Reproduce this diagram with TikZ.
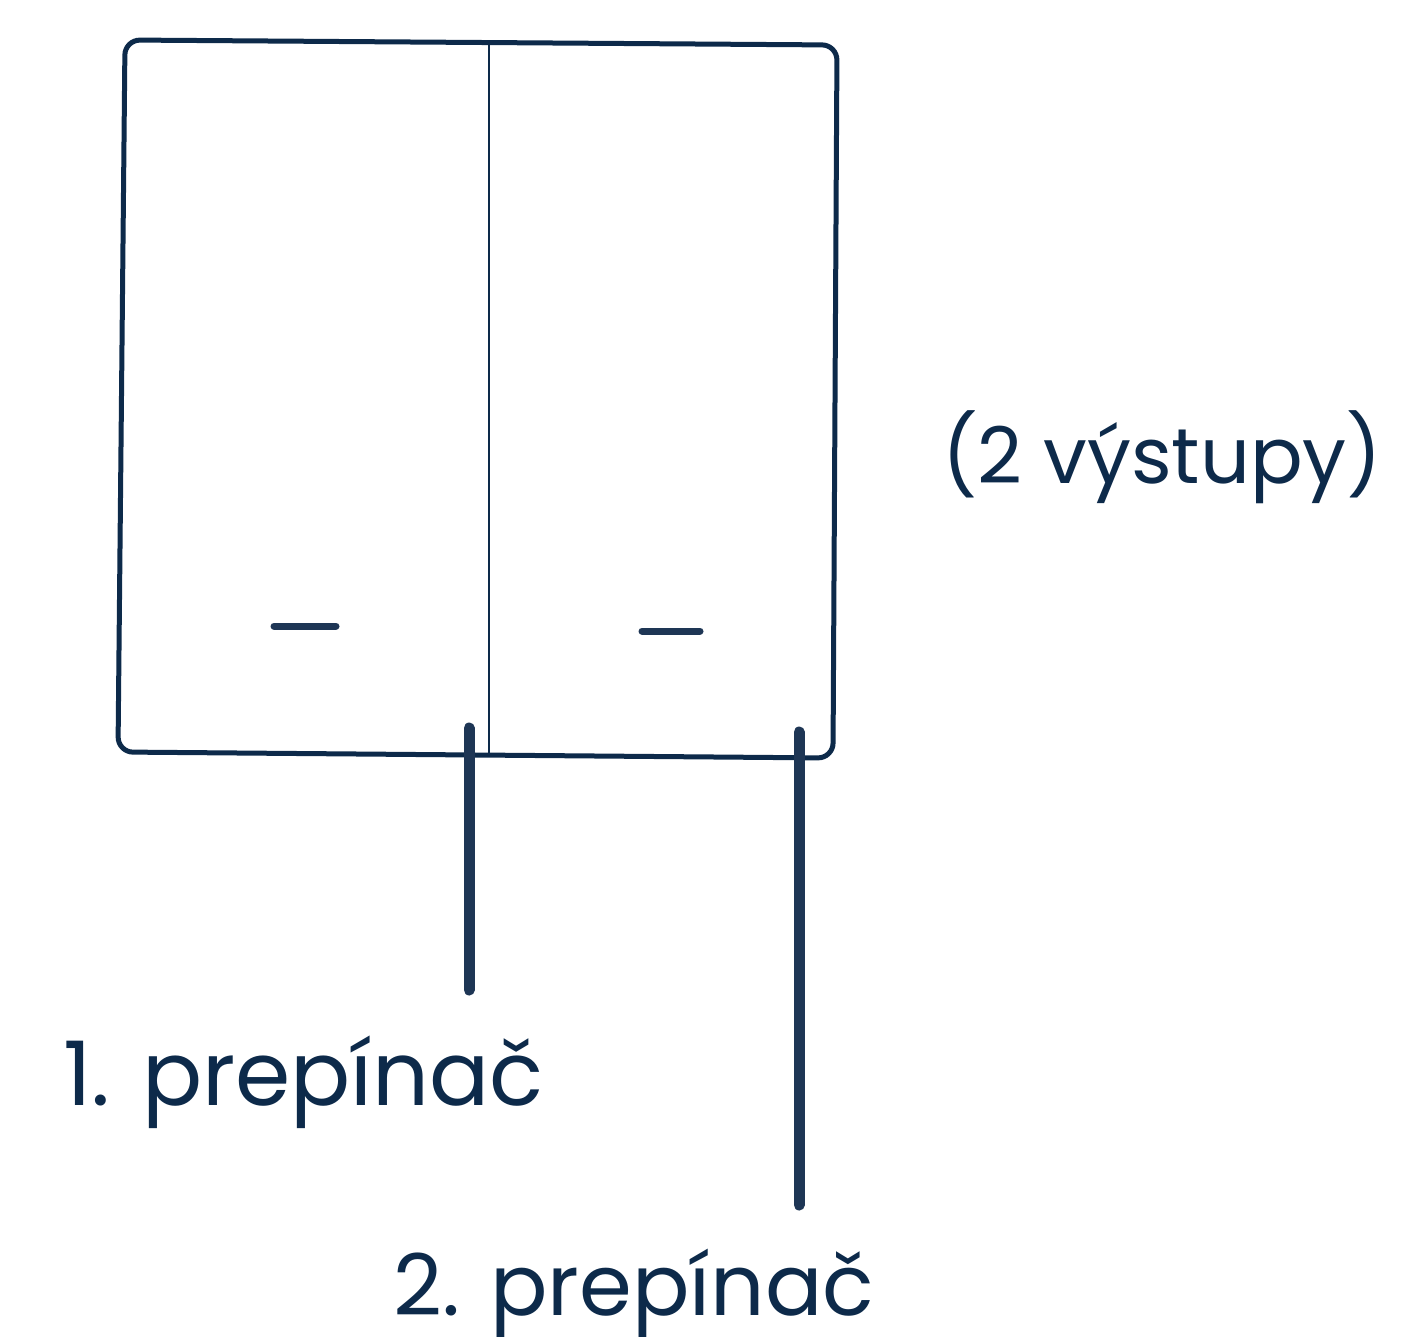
\documentclass[tikz,border=0pt]{standalone}
\usepackage{fontspec}
\setmainfont{Poppins}
\definecolor{navy}{HTML}{0D2A4A}
\definecolor{leadcol}{HTML}{1E3655}
\begin{document}
\begin{tikzpicture}[x=0.5pt,y=-0.5pt,
  outline/.style={draw=navy,line width=2.5pt,rounded corners=7.5pt},
  divider/.style={draw=navy,line width=1pt},
  dashmark/.style={draw=leadcol,line width=3.5pt,line cap=round},
  lead/.style={draw=leadcol,line width=5.5pt,line cap=round},
  lbl/.style={text=navy,inner sep=0pt}]
\useasboundingbox (0,0) rectangle (1415,1337);
\coordinate (tl) at (125,40);
\coordinate (tr) at (837,45);
\coordinate (br) at (833,758);
\coordinate (bl) at (118,752);
\draw[outline] (tl) -- (tr) -- (br) -- (bl) -- cycle;
\coordinate (dtop) at (489,43);
\coordinate (dbot) at (489,755);
\draw[divider] (dtop) -- (dbot);
\coordinate (m1a) at (274,626);
\coordinate (m1b) at (336,626);
\draw[dashmark] (m1a) -- (m1b);
\coordinate (m2a) at (642,631);
\coordinate (m2b) at (700,631);
\draw[dashmark] (m2a) -- (m2b);
\coordinate (l1a) at (469,728);
\coordinate (l1b) at (469,990);
\draw[lead] (l1a) -- (l1b);
\coordinate (l2a) at (799,732);
\coordinate (l2b) at (799,1205);
\draw[lead] (l2a) -- (l2b);
\node[lbl,anchor=base west,font=\fontsize{39}{43}\selectfont] (outs) at (942,483) {(2 výstupy)};
\node[lbl,anchor=base west,font=\fontsize{44.5}{48}\selectfont] (sw1) at (63,1105) {1. prepínač};
\node[lbl,anchor=base west,font=\fontsize{42.5}{46}\selectfont] (sw2) at (393,1315) {2. prepínač};
\end{tikzpicture}
\end{document}
